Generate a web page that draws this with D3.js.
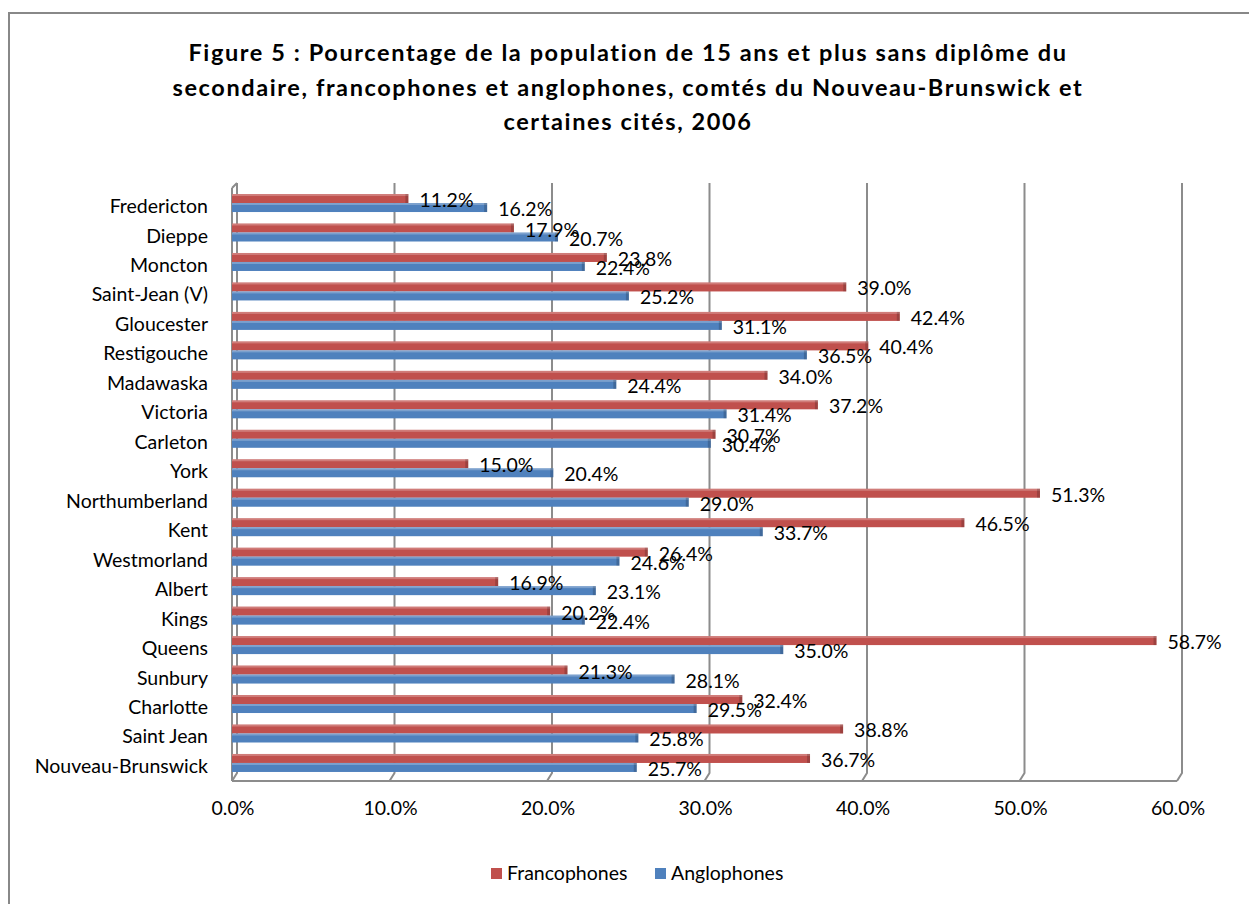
<!DOCTYPE html>
<html>
<head>
<meta charset="utf-8">
<script src="https://cdn.jsdelivr.net/npm/d3@7"></script>
<style>
  body { margin: 0; background: #fff; }
  text { font-family: Lato, "Open Sans", sans-serif; fill: #000; }
</style>
</head>
<body>
<script>
var categories = ["Fredericton", "Dieppe", "Moncton", "Saint-Jean (V)", "Gloucester", "Restigouche",
	"Madawaska", "Victoria", "Carleton", "York", "Northumberland", "Kent", "Westmorland", "Albert",
	"Kings", "Queens", "Sunbury", "Charlotte", "Saint Jean", "Nouveau-Brunswick"];
var francophones = [11.2, 17.9, 23.8, 39.0, 42.4, 40.4, 34.0, 37.2, 30.7, 15.0, 51.3, 46.5, 26.4, 16.9,
	20.2, 58.7, 21.3, 32.4, 38.8, 36.7];
var anglophones = [16.2, 20.7, 22.4, 25.2, 31.1, 36.5, 24.4, 31.4, 30.4, 20.4, 29.0, 33.7, 24.6, 23.1,
	22.4, 35.0, 28.1, 29.5, 25.8, 25.7];
var seriesNames = ["Francophones", "Anglophones"];
var colors = ["#C0504D", "#4F81BD"];
var xTicks = [0, 10, 20, 30, 40, 50, 60];
var titleLines = [
	"Figure 5 : Pourcentage de la population de 15 ans et plus sans diplôme du",
	"secondaire, francophones et anglophones, comtés du Nouveau-Brunswick et",
	"certaines cités, 2006"
];

var W = 1249, H = 904;
var dx = 5, dy = -8; // depth offset of the back wall
var fs = "19.5px";

var svg = d3.select("body").append("svg")
	.attr("width", W)
	.attr("height", H);

// outer frame
svg.append("rect")
	.attr("x", 9).attr("y", 13)
	.attr("width", W + 20).attr("height", H + 20)
	.attr("fill", "none")
	.attr("stroke", "#888")
	.attr("stroke-width", 2);

// title
svg.append("g").selectAll("text")
	.data(titleLines)
	.enter().append("text")
	.attr("x", 628)
	.attr("y", function(d, i) { return 61 + i * 34.5; })
	.attr("text-anchor", "middle")
	.style("font-size", "23.5px")
	.style("font-weight", "bold")
	.style("letter-spacing", "1.6px")
	.text(function(d) { return d; });

// scales
var x = d3.scaleLinear()
	.domain([0, 60])
	.range([232, 1177]);

var y = d3.scaleBand()
	.domain(categories)
	.range([188.3, 777.7]);

var sub = d3.scaleBand()
	.domain(seriesNames)
	.range([0, 18]);

var floorY = 781;
var wallTop = 183;

// back wall grid lines + floor diagonals
var grid = svg.append("g").attr("stroke", "#8c8c8c").attr("fill", "none").attr("stroke-width", 2);
grid.selectAll("path.g")
	.data(xTicks)
	.enter().append("path")
	.attr("class", "g")
	.attr("d", function(d) {
		var xb = x(d) + dx;
		return "M" + xb + "," + wallTop + "V" + (floorY + dy) + "L" + x(d) + "," + floorY;
	});
// floor front edge
grid.append("path")
	.attr("d", "M" + x(0) + "," + floorY + "H" + x(60));
// left wall front edge
grid.append("path")
	.attr("d", "M" + x(0) + "," + (wallTop + 5) + "V" + floorY + "M" + x(0) + "," + (wallTop + 5) + "L" + (x(0) + dx) + "," + wallTop);

// flatten to one record per bar
var barData = [];
categories.forEach(function(c, i) {
	barData.push({ cat: c, name: seriesNames[0], value: francophones[i], color: colors[0] });
	barData.push({ cat: c, name: seriesNames[1], value: anglophones[i], color: colors[1] });
});

function barY(d) { return y(d.cat) + y.bandwidth() / 2 - 9 + sub(d.name); }

var bars = svg.append("g").selectAll("g")
	.data(barData)
	.enter().append("g");

bars.append("rect")
	.attr("x", x(0))
	.attr("y", barY)
	.attr("width", function(d) { return x(d.value) - x(0); })
	.attr("height", sub.bandwidth())
	.attr("fill", function(d) { return d.color; });

// lighter top face
bars.append("rect")
	.attr("x", x(0))
	.attr("y", barY)
	.attr("width", function(d) { return x(d.value) - x(0); })
	.attr("height", 2)
	.attr("fill", "#fff")
	.attr("opacity", 0.25);

// darker end cap
bars.append("rect")
	.attr("x", function(d) { return x(d.value) - 3; })
	.attr("y", barY)
	.attr("width", 3)
	.attr("height", sub.bandwidth())
	.attr("fill", "#000")
	.attr("opacity", 0.18);

// value labels, above all bars
svg.append("g").selectAll("text")
	.data(barData)
	.enter().append("text")
	.attr("x", function(d) { return x(d.value) + 11; })
	.attr("y", function(d) { return barY(d) + sub.bandwidth() / 2 + 8.5; })
	.style("font-size", fs)
	.text(function(d) { return d.value.toFixed(1) + "%"; });

// category labels
svg.append("g").selectAll("text")
	.data(categories)
	.enter().append("text")
	.attr("x", 208)
	.attr("y", function(d) { return y(d) + y.bandwidth() / 2 + 10; })
	.attr("text-anchor", "end")
	.style("font-size", fs)
	.text(function(d) { return d; });

// x tick labels
svg.append("g").selectAll("text")
	.data(xTicks)
	.enter().append("text")
	.attr("x", function(d) { return x(d) + 1; })
	.attr("y", 815)
	.attr("text-anchor", "middle")
	.style("font-size", fs)
	.text(function(d) { return d.toFixed(1) + "%"; });

// legend
var legend = svg.append("g").selectAll("g")
	.data(seriesNames)
	.enter().append("g")
	.attr("transform", function(d, i) { return "translate(" + [491, 655][i] + ",880)"; });

legend.append("rect")
	.attr("x", 0).attr("y", -12)
	.attr("width", 11).attr("height", 11)
	.attr("fill", function(d, i) { return colors[i]; });

legend.append("text")
	.attr("x", 16)
	.attr("y", 0)
	.style("font-size", fs)
	.text(function(d) { return d; });
</script>
</body>
</html>
